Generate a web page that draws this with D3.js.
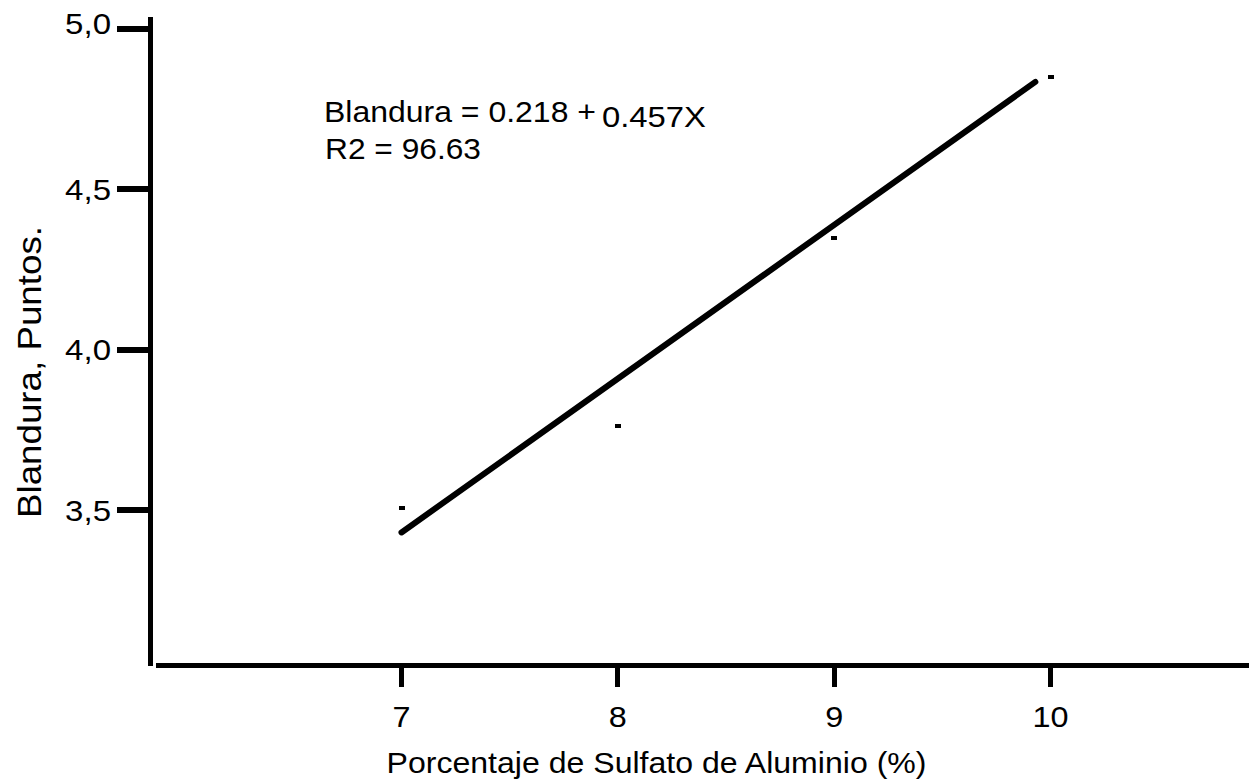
<!DOCTYPE html>
<html>
<head>
<meta charset="utf-8">
<script src="https://cdn.jsdelivr.net/npm/d3@7"></script>
<style>
  html, body { margin: 0; padding: 0; background: #fff; }
  text { font-family: "Liberation Sans", Arial, sans-serif; fill: #000; }
</style>
</head>
<body>
<svg id="chart" width="1249" height="782"></svg>
<script>
// ---- data ----
const xTicks = [7, 8, 9, 10];
const xTickLabels = ["7", "8", "9", "10"];
const yTicks = [3.5, 4.0, 4.5, 5.0];
const yTickLabels = ["3,5", "4,0", "4,5", "5,0"];
const pointX = [7, 8, 9, 10];
const pointY = [3.507, 3.763, 4.348, 4.851];
const fitX = [7, 9.93];
const fitY = [3.43, 4.835];
const xTitle = "Porcentaje de Sulfato de Aluminio (%)";
const yTitle = "Blandura, Puntos.";
const eqLine1a = "Blandura = 0.218 +";
const eqLine1b = "0.457X";
const eqLine2 = "R2 = 96.63";

// ---- layout ----
const svg = d3.select("#chart");
const x = d3.scaleLinear().domain([7, 10]).range([401.5, 1050.5]);
const y = d3.scaleLinear().domain([3.5, 5.0]).range([510, 29]);
const axisX = 150.5, axisYTop = 17, axisYBottom = 666;
const axisW = 5, tickW = 6;

function stretch(sel, factor) {
  sel.each(function () {
    const L = this.getComputedTextLength();
    d3.select(this).attr("textLength", L * factor).attr("lengthAdjust", "spacingAndGlyphs");
  });
}
function fitTo(sel, len) {
  sel.attr("textLength", len).attr("lengthAdjust", "spacingAndGlyphs");
}

// y axis line
svg.append("rect")
  .attr("x", Math.round(axisX - axisW / 2)).attr("y", axisYTop)
  .attr("width", axisW).attr("height", axisYBottom - axisYTop)
  .attr("fill", "#000");

// x axis line
svg.append("rect")
  .attr("x", 156).attr("y", 663)
  .attr("width", 1249 - 156).attr("height", axisW)
  .attr("fill", "#000");

// y ticks
const yt = svg.append("g");
yt.selectAll("rect").data(yTicks).join("rect")
  .attr("x", 117).attr("width", 32)
  .attr("y", d => Math.round(y(d) - tickW / 2)).attr("height", tickW)
  .attr("fill", "#000");
yt.selectAll("text").data(yTicks).join("text")
  .attr("x", 111)
  .attr("y", d => y(d) + 10.5 - (d === 5.0 ? 6 : 0))
  .attr("text-anchor", "end")
  .attr("font-size", 30)
  .text((d, i) => yTickLabels[i])
  .call(stretch, 1.1);

// x ticks
const xt = svg.append("g");
xt.selectAll("rect").data(xTicks).join("rect")
  .attr("x", d => Math.round(x(d) - 2.5)).attr("width", 5)
  .attr("y", 666).attr("height", 21)
  .attr("fill", "#000");
xt.selectAll("text").data(xTicks).join("text")
  .attr("x", d => x(d))
  .attr("y", 727)
  .attr("text-anchor", "middle")
  .attr("font-size", 30)
  .text((d, i) => xTickLabels[i])
  .call(stretch, 1.08);

// axis titles
svg.append("text")
  .attr("x", 656.5).attr("y", 773)
  .attr("text-anchor", "middle")
  .attr("font-size", 30)
  .text(xTitle)
  .call(fitTo, 540);

svg.append("text")
  .attr("transform", "translate(41,372) rotate(-90)")
  .attr("text-anchor", "middle")
  .attr("font-size", 33)
  .text(yTitle)
  .call(fitTo, 292);

// regression line
const fitData = fitX.map((v, i) => [v, fitY[i]]);
svg.append("path")
  .datum(fitData)
  .attr("d", d3.line().x(d => x(d[0])).y(d => y(d[1])))
  .attr("fill", "none")
  .attr("stroke", "#000")
  .attr("stroke-width", 6)
  .attr("stroke-linecap", "round");

// data points (small dash markers)
const pts = pointX.map((v, i) => [v, pointY[i]]);
svg.append("g").selectAll("rect").data(pts).join("rect")
  .attr("x", d => Math.round(x(d[0]) - 3))
  .attr("y", d => Math.round(y(d[1]) - 2))
  .attr("width", 6)
  .attr("height", 4)
  .attr("fill", "#000");

// equation annotation
svg.append("text")
  .attr("x", 324).attr("y", 122)
  .attr("font-size", 30)
  .text(eqLine1a)
  .call(fitTo, 272);
svg.append("text")
  .attr("x", 602).attr("y", 127)
  .attr("font-size", 30)
  .text(eqLine1b)
  .call(fitTo, 104);
svg.append("text")
  .attr("x", 325).attr("y", 159)
  .attr("font-size", 30)
  .text(eqLine2)
  .call(fitTo, 156);
</script>
</body>
</html>
